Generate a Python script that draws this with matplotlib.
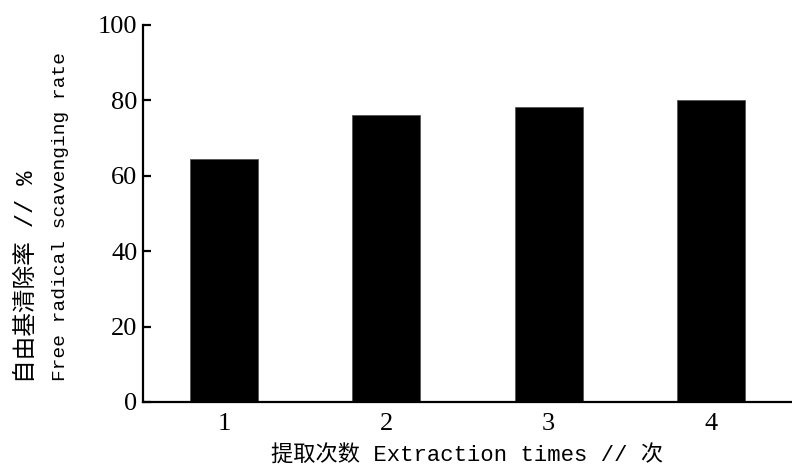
import matplotlib
matplotlib.use("Agg")
import matplotlib.pyplot as plt

categories = ["1", "2", "3", "4"]
values = [64.5, 76.2, 78.2, 80.0]
yticks = [0, 20, 40, 60, 80, 100]

W, H = 792, 475
fig = plt.figure(figsize=(7.92, 4.75), dpi=100)
ax = fig.add_axes([0.1806, 0.1537, 0.8194, 0.7937])

x = list(range(1, len(categories) + 1))
ax.bar(x, values, width=0.42, color="black", edgecolor="#555555", linewidth=0.6)

ax.set_xlim(0.5, 4.5)
ax.set_ylim(0, 100)
ax.set_yticks(yticks)
ax.set_xticks(x)
ax.set_xticklabels(categories)

for s in ["top", "right"]:
    ax.spines[s].set_visible(False)
for s in ["left", "bottom"]:
    ax.spines[s].set_linewidth(1.6)

tickfont = ["Liberation Serif", "Noto Sans CJK SC"]
ax.tick_params(axis="y", direction="in", length=6, width=1.6, labelsize=19, pad=4)
ax.tick_params(axis="x", length=0, labelsize=19, pad=8)
for lab in ax.get_xticklabels() + ax.get_yticklabels():
    lab.set_family(tickfont)

labfont = ["Liberation Mono", "Noto Sans CJK SC"]
fig.text(467 / W, 1 - 456 / H, "提取次数 Extraction times // 次", fontsize=16,
         family=labfont, ha="center", va="center")
fig.text(26 / W, 1 - 383 / H, "自由基清除率 // %", fontsize=17, family=labfont,
         rotation=90, ha="center", va="bottom")
fig.text(61 / W, 1 - 381 / H, "Free radical scavenging rate", fontsize=14,
         family=labfont, rotation=90, ha="center", va="bottom")

fig.savefig("out.png", dpi=100)
